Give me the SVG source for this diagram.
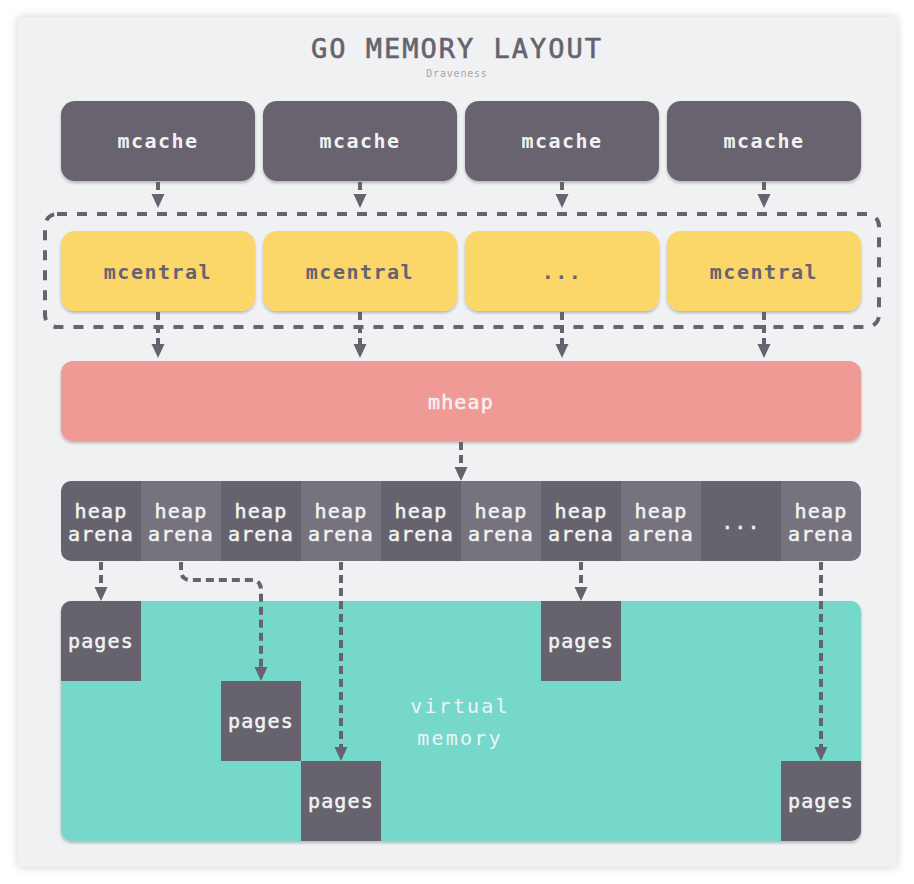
<svg xmlns="http://www.w3.org/2000/svg" width="914" height="884" viewBox="0 0 914 884">
  <style>
    .lbl { font-family: "DejaVu Sans Mono", "Liberation Mono", monospace; font-size: 20px; text-anchor: middle; }
    .w { fill: #f2f2f2; }
    .d { fill: #67636e; }
    .b { font-weight: bold; letter-spacing: 1.5px; }
    .m { stroke-width: 0.5; letter-spacing: 1.2px; }
    .w.m { stroke: #f2f2f2; }
    .conn { fill: none; stroke: #67636e; stroke-width: 4; stroke-dasharray: 8 5; }
    .dark { fill: #67636e; }
    .light { fill: #77737e; }
  </style>
  <defs>
    <filter id="card" x="-5%" y="-5%" width="110%" height="110%">
      <feDropShadow dx="0" dy="0" stdDeviation="4" flood-color="#000" flood-opacity="0.18"/>
    </filter>
    <filter id="sh" x="-5%" y="-10%" width="110%" height="130%">
      <feDropShadow dx="0" dy="2" stdDeviation="1.5" flood-color="#000" flood-opacity="0.25"/>
    </filter>
    <marker id="arr" markerUnits="userSpaceOnUse" markerWidth="14" markerHeight="14" viewBox="0 0 14 14" refX="6" refY="7" orient="auto">
      <path d="M0,0.5 L14,7 L0,13.5 z" fill="#67636e"/>
    </marker>
    <clipPath id="rowclip"><rect x="61" y="481" width="800" height="80" rx="10"/></clipPath>
    <clipPath id="vmclip"><rect x="61" y="601" width="800" height="240" rx="10"/></clipPath>
  </defs>

  <rect x="0" y="0" width="914" height="884" fill="#ffffff"/>
  <rect id="card-bg" x="18" y="17" width="879" height="850" fill="#f0f1f3" filter="url(#card)"/>

  <g id="title">
    <text x="457" y="58" font-family="DejaVu Sans Mono, Liberation Mono, monospace" font-size="27" letter-spacing="2" text-anchor="middle" fill="#67636e" stroke="#67636e" stroke-width="0.6">GO MEMORY LAYOUT</text>
    <text x="457" y="77" font-family="DejaVu Sans Mono, Liberation Mono, monospace" font-size="10" letter-spacing="0.8" text-anchor="middle" fill="#a6a6a6">Draveness</text>
  </g>

  <g id="mcache-1"><rect x="61" y="101" width="194" height="80" rx="14" class="dark" filter="url(#sh)"/><text x="158" y="148" class="lbl w b">mcache</text></g>
  <g id="mcache-2"><rect x="263" y="101" width="194" height="80" rx="14" class="dark" filter="url(#sh)"/><text x="360" y="148" class="lbl w b">mcache</text></g>
  <g id="mcache-3"><rect x="465" y="101" width="194" height="80" rx="14" class="dark" filter="url(#sh)"/><text x="562" y="148" class="lbl w b">mcache</text></g>
  <g id="mcache-4"><rect x="667" y="101" width="194" height="80" rx="14" class="dark" filter="url(#sh)"/><text x="764" y="148" class="lbl w b">mcache</text></g>

  <g id="mcentral-group">
    <rect x="45" y="214" width="834" height="113" rx="12" fill="none" stroke="#67636e" stroke-width="4" stroke-dasharray="10 10"/>
  </g>

  <g id="mcentral-1"><rect x="61" y="231" width="194" height="80" rx="14" fill="#fbd669" filter="url(#sh)"/><text x="158" y="279" class="lbl d b">mcentral</text></g>
  <g id="mcentral-2"><rect x="263" y="231" width="194" height="80" rx="14" fill="#fbd669" filter="url(#sh)"/><text x="360" y="279" class="lbl d b">mcentral</text></g>
  <g id="mcentral-3"><rect x="465" y="231" width="194" height="80" rx="14" fill="#fbd669" filter="url(#sh)"/><text x="562" y="279" class="lbl d b">...</text></g>
  <g id="mcentral-4"><rect x="667" y="231" width="194" height="80" rx="14" fill="#fbd669" filter="url(#sh)"/><text x="764" y="279" class="lbl d b">mcentral</text></g>

  <g id="mheap"><rect x="61" y="361" width="800" height="80" rx="12" fill="#f09a95" filter="url(#sh)"/><text x="461" y="409" class="lbl w m">mheap</text></g>

  <g id="heap-arenas">
    <g clip-path="url(#rowclip)">
      <rect x="61" y="481" width="80" height="80" class="dark"/>
      <rect x="141" y="481" width="80" height="80" class="light"/>
      <rect x="221" y="481" width="80" height="80" class="dark"/>
      <rect x="301" y="481" width="80" height="80" class="light"/>
      <rect x="381" y="481" width="80" height="80" class="dark"/>
      <rect x="461" y="481" width="80" height="80" class="light"/>
      <rect x="541" y="481" width="80" height="80" class="dark"/>
      <rect x="621" y="481" width="80" height="80" class="light"/>
      <rect x="701" y="481" width="80" height="80" class="dark"/>
      <rect x="781" y="481" width="80" height="80" class="light"/>
    </g>
    <g>
      <text x="101" y="518" class="lbl w m">heap</text><text x="101" y="541" class="lbl w m">arena</text>
      <text x="181" y="518" class="lbl w m">heap</text><text x="181" y="541" class="lbl w m">arena</text>
      <text x="261" y="518" class="lbl w m">heap</text><text x="261" y="541" class="lbl w m">arena</text>
      <text x="341" y="518" class="lbl w m">heap</text><text x="341" y="541" class="lbl w m">arena</text>
      <text x="421" y="518" class="lbl w m">heap</text><text x="421" y="541" class="lbl w m">arena</text>
      <text x="501" y="518" class="lbl w m">heap</text><text x="501" y="541" class="lbl w m">arena</text>
      <text x="581" y="518" class="lbl w m">heap</text><text x="581" y="541" class="lbl w m">arena</text>
      <text x="661" y="518" class="lbl w m">heap</text><text x="661" y="541" class="lbl w m">arena</text>
      <text x="741" y="529" class="lbl w m">...</text>
      <text x="821" y="518" class="lbl w m">heap</text><text x="821" y="541" class="lbl w m">arena</text>
    </g>
  </g>

  <g id="virtual-memory">
    <rect x="61" y="601" width="800" height="240" rx="10" fill="#76d7cb" filter="url(#sh)"/>
    <text x="460" y="713" class="lbl" fill="#e9f6f3" font-size="22" letter-spacing="2.2">virtual</text>
    <text x="460" y="745" class="lbl" fill="#e9f6f3" font-size="22" letter-spacing="2.2">memory</text>
  </g>

  <g id="pages" clip-path="url(#vmclip)">
    <g id="pages-1"><rect x="61" y="601" width="80" height="80" class="dark"/><text x="101" y="648" class="lbl w m">pages</text></g>
    <g id="pages-2"><rect x="221" y="681" width="80" height="80" class="dark"/><text x="261" y="728" class="lbl w m">pages</text></g>
    <g id="pages-3"><rect x="301" y="761" width="80" height="80" class="dark"/><text x="341" y="808" class="lbl w m">pages</text></g>
    <g id="pages-4"><rect x="541" y="601" width="80" height="80" class="dark"/><text x="581" y="648" class="lbl w m">pages</text></g>
    <g id="pages-5"><rect x="781" y="761" width="80" height="80" class="dark"/><text x="821" y="808" class="lbl w m">pages</text></g>
  </g>

  <g id="connectors">
    <path class="conn" d="M158,182 V200" marker-end="url(#arr)"/>
    <path class="conn" d="M360,182 V200" marker-end="url(#arr)"/>
    <path class="conn" d="M562,182 V200" marker-end="url(#arr)"/>
    <path class="conn" d="M764,182 V200" marker-end="url(#arr)"/>
    <path class="conn" d="M158,312 V350" marker-end="url(#arr)"/>
    <path class="conn" d="M360,312 V350" marker-end="url(#arr)"/>
    <path class="conn" d="M562,312 V350" marker-end="url(#arr)"/>
    <path class="conn" d="M764,312 V350" marker-end="url(#arr)"/>
    <path class="conn" d="M461,442 V473" marker-end="url(#arr)"/>
    <path class="conn" d="M101,562 V593" marker-end="url(#arr)"/>
    <path class="conn" d="M181,562 V570 Q181,580 191,580 H251 Q261,580 261,590 V673" marker-end="url(#arr)"/>
    <path class="conn" d="M341,562 V753" marker-end="url(#arr)"/>
    <path class="conn" d="M581,562 V593" marker-end="url(#arr)"/>
    <path class="conn" d="M821,562 V753" marker-end="url(#arr)"/>
  </g>
</svg>
